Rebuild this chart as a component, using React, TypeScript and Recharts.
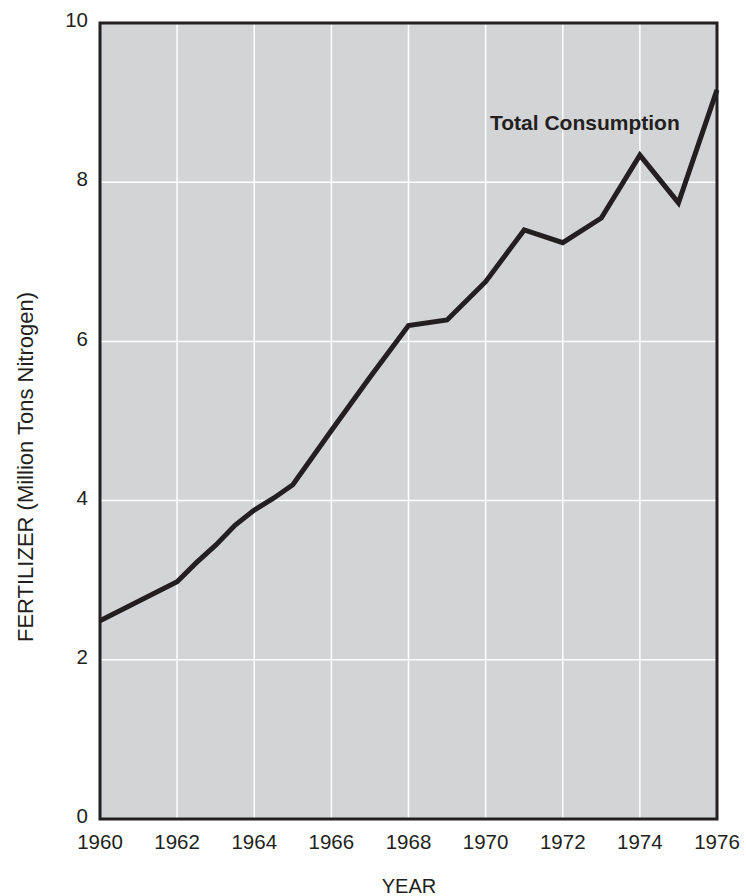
import React from 'react';
import { LineChart, Line, XAxis, YAxis, CartesianGrid, ReferenceArea } from 'recharts';

// Fertilizer (nitrogen) total consumption, million tons
const years = [1960, 1962, 1962.5, 1963, 1963.5, 1964, 1964.5, 1965, 1966, 1967, 1968, 1969, 1970, 1971, 1972, 1973, 1974, 1975, 1976];
const consumption = [2.49, 2.98, 3.22, 3.44, 3.69, 3.88, 4.03, 4.2, 4.88, 5.55, 6.2, 6.27, 6.75, 7.4, 7.24, 7.55, 8.34, 7.74, 9.16];

const xTicks = [1960, 1962, 1964, 1966, 1968, 1970, 1972, 1974, 1976];
const yTicks = [0, 2, 4, 6, 8, 10];

const data = years.map((year, i) => ({ year, value: consumption[i] }));

const FONT = '"Liberation Sans", Arial, Helvetica, sans-serif';
const INK = '#231f20';

export default function App() {
  return (
    <div style={{ position: 'absolute', left: 0, top: 0, width: 746, height: 896, background: '#fff', fontFamily: FONT }}>
      <LineChart width={746} height={896} data={data} margin={{ top: 23, right: 29, bottom: 0, left: 0 }}>
        <CartesianGrid fill="#d3d4d6" stroke="#ffffff" strokeWidth={1.5} />
        <XAxis
          dataKey="year"
          type="number"
          domain={[1960, 1976]}
          ticks={xTicks}
          height={77}
          axisLine={false}
          tickLine={false}
          tickMargin={9}
          tick={{ fontSize: 20.5, fill: INK, fontFamily: FONT }}
        />
        <YAxis
          type="number"
          domain={[0, 10]}
          ticks={yTicks}
          width={100}
          axisLine={false}
          tickLine={false}
          tickMargin={6}
          tick={{ fontSize: 20.5, fill: INK, fontFamily: FONT, dy: -3 }}
        />
        <ReferenceArea x1={1960} x2={1976} y1={0} y2={10} fill="none" stroke={INK} strokeWidth={3} ifOverflow="visible" />
        <Line
          dataKey="value"
          type="linear"
          stroke={INK}
          strokeWidth={5}
          strokeLinejoin="miter"
          dot={false}
          activeDot={false}
          isAnimationActive={false}
        />
        <text x={490} y={130} fontSize={21} fontWeight="bold" fill={INK} fontFamily={FONT}>
          Total Consumption
        </text>
        <text
          x={33}
          y={467}
          transform="rotate(-90 33 467)"
          textAnchor="middle"
          fontSize={22}
          fill={INK}
          fontFamily={FONT}
        >
          FERTILIZER (Million Tons Nitrogen)
        </text>
        <text x={409} y={893} textAnchor="middle" fontSize={20} fill={INK} fontFamily={FONT}>
          YEAR
        </text>
      </LineChart>
    </div>
  );
}
